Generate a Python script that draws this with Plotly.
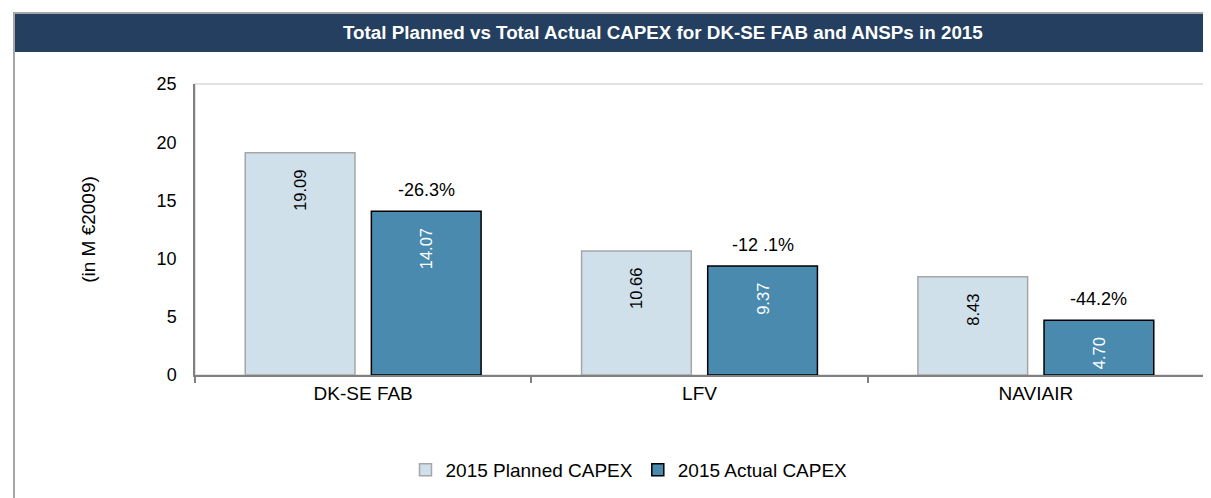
import plotly.graph_objects as go

categories = ["DK-SE FAB", "LFV", "NAVIAIR"]
planned = [19.09, 10.66, 8.43]
actual = [14.07, 9.37, 4.70]
pct_labels = ["-26.3%", "-12 .1%", "-44.2%"]
y_ticks = [0, 5, 10, 15, 20, 25]

FONT = "Liberation Sans, Arial, sans-serif"
OFF = 8  # default page body margin
W, H = 1211 - OFF, 498 - OFF
L, R, T, B = 195 - OFF, 7, 84 - OFF, 123
pw, ph = W - L - R, H - T - B

def px_x(p):
    return (p - OFF - L) / pw

def px_y(p):
    return (H - B - (p - OFF)) / ph

PAD = "\u00a0\u00a0\u00a0"

fig = go.Figure()
fig.add_trace(go.Bar(
    name="2015 Planned CAPEX", x=categories, y=planned,
    marker=dict(color="#D0E0EA", line=dict(color="#A6A6A6", width=1.5)),
    text=[f"{v:.2f}" + PAD for v in planned], textposition="inside",
    insidetextanchor="end", textangle=-90,
    textfont=dict(color="#000000", size=16.5, family=FONT),
))
fig.add_trace(go.Bar(
    name="2015 Actual CAPEX", x=categories, y=actual,
    marker=dict(color="#4A8AAF", line=dict(color="#000000", width=1.5)),
    text=[f"{v:.2f}" + PAD for v in actual], textposition="inside",
    insidetextanchor="end", textangle=-90,
    textfont=dict(color="#FFFFFF", size=16.5, family=FONT),
))

for c, v, t in zip(categories, actual, pct_labels):
    fig.add_annotation(x=c, y=v, xref="x", yref="y", text=t, showarrow=False,
                       xshift=63, yshift=9, yanchor="bottom",
                       font=dict(size=18, color="#000000", family=FONT))

shapes = [
    # plot area border
    dict(type="rect", xref="paper", yref="paper", x0=0, x1=1, y0=0, y1=1,
         line=dict(color="#D9D9D9", width=1.5), layer="below"),
    # title bar
    dict(type="rect", xref="paper", yref="paper",
         x0=px_x(14), x1=px_x(1212), y0=px_y(52), y1=px_y(14),
         fillcolor="#243F60", line=dict(width=0)),
    # outer frame lines
    dict(type="line", xref="paper", yref="paper",
         x0=px_x(14), x1=px_x(14), y0=px_y(13), y1=px_y(499),
         line=dict(color="#A6A6A6", width=2)),
    dict(type="line", xref="paper", yref="paper",
         x0=px_x(13), x1=px_x(1212), y0=px_y(13), y1=px_y(13),
         line=dict(color="#A6A6A6", width=2)),
]

fig.add_annotation(
    xref="paper", yref="paper", x=px_x(663), y=px_y(33),
    text="<b>Total Planned vs Total Actual CAPEX for DK-SE FAB and ANSPs in 2015</b>",
    showarrow=False, xanchor="center", yanchor="middle",
    font=dict(size=18.8, color="#FFFFFF", family=FONT))

fig.update_layout(
    width=W, height=H,
    margin=dict(l=L, r=R, t=T, b=B, pad=0),
    paper_bgcolor="white", plot_bgcolor="white",
    barmode="group", bargap=0.25, bargroupgap=0.13,
    font=dict(family=FONT, size=16, color="#000000"),
    shapes=shapes,
    showlegend=True,
    legend=dict(orientation="h", x=px_x(629), xanchor="center",
                y=px_y(470), yanchor="middle",
                font=dict(size=19, family=FONT), itemwidth=30,
                traceorder="normal"),
    xaxis=dict(showline=True, linecolor="#808080", linewidth=2,
               ticks="outside", tickson="boundaries", ticklen=6,
               tickcolor="#808080", tickwidth=1.5,
               tickfont=dict(size=19, family=FONT), showgrid=False),
    yaxis=dict(range=[0, 25], tickvals=y_ticks, showline=True,
               linecolor="#808080", linewidth=1.5, ticks="",
               showgrid=False, zeroline=False, ticklabelstandoff=13,
               tickfont=dict(size=18, family=FONT),
               title=dict(text="(in M €2009)", standoff=56,
                          font=dict(size=19, family=FONT))),
)

fig.write_html("out.html")
